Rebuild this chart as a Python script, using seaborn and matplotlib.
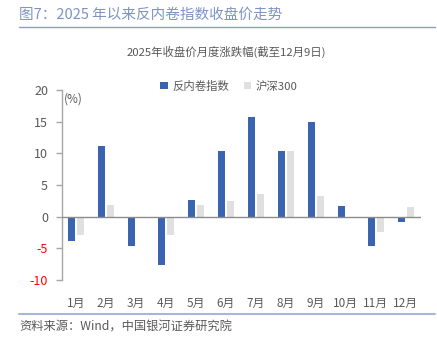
import pandas as pd
import seaborn as sns
import matplotlib.pyplot as plt
from matplotlib.patches import Patch
from matplotlib.lines import Line2D

# data
months = ['1月', '2月', '3月', '4月', '5月', '6月', '7月', '8月', '9月', '10月', '11月', '12月']
anti_involution = [-3.9, 11.1, -4.6, -7.7, 2.6, 10.3, 15.7, 10.3, 14.9, 1.7, -4.6, -0.9]
hs300 = [-2.9, 1.9, 0.0, -2.9, 1.8, 2.5, 3.5, 10.4, 3.2, 0.0, -2.5, 1.6]
series_names = ['反内卷指数', '沪深300']
yticks = [-10, -5, 0, 5, 10, 15, 20]

df = pd.DataFrame({
    'month': months * 2,
    'value': anti_involution + hs300,
    'series': [series_names[0]] * 12 + [series_names[1]] * 12,
})

sns.set_theme(style='white')
plt.rcParams['font.family'] = ['Noto Sans CJK SC', 'DejaVu Sans']
plt.rcParams['axes.unicode_minus'] = False

blue = '#3a63b0'
grey = '#e0e0e0'
txt = '#595959'

fig = plt.figure(figsize=(4.37, 3.5), dpi=100)
ax = fig.add_axes([0.1419, 0.2, 0.821, 0.5429])

sns.barplot(data=df, x='month', y='value', hue='series', palette=[blue, grey],
            width=0.57, gap=0.18, ax=ax, legend=False, saturation=1, linewidth=0)

ax.set_xlim(-0.47, 11.5)
ax.set_ylim(-10, 20)
ax.set_yticks(yticks)
ax.set_yticklabels([str(t) for t in yticks])
ax.axhline(0, color='#8c8c8c', lw=1.0, zorder=3)
ax.set_xlabel('')
ax.set_ylabel('')

for s in ['top', 'right', 'bottom']:
    ax.spines[s].set_visible(False)
ax.spines['left'].set_color('#a6a6a6')
ax.spines['left'].set_linewidth(1.0)
ax.tick_params(axis='y', length=4, width=1.0, color='#a6a6a6', labelsize=9,
               labelcolor=txt, pad=6, left=True, direction='out')
ax.tick_params(axis='x', length=0, labelsize=8.5, labelcolor=txt, pad=12)
for lab in ax.get_yticklabels():
    if lab.get_text().startswith('-'):
        lab.set_color('red')

ax.text(0.005, 0.985, '(%)', transform=ax.transAxes, fontsize=8.5, color=txt,
        ha='left', va='top')

# header / footer
fig.text(19 / 437, 1 - 15 / 350, '图7：2025 年以来反内卷指数收盘价走势', fontsize=10.5,
         color='#7f93c4', ha='left', va='center')
fig.add_artist(Line2D([19 / 437, 435 / 437], [1 - 27 / 350] * 2, color='#8a9cc8', lw=1.0))
fig.text(226 / 437, 1 - 52 / 350, '2025年收盘价月度涨跌幅(截至12月9日)', fontsize=8.2,
         color=txt, ha='center', va='center')
fig.add_artist(Line2D([19 / 437, 435 / 437], [1 - 314 / 350] * 2, color='#a9b6d6', lw=1.5))
fig.text(19 / 437, 1 - 327 / 350, '资料来源：Wind，中国银河证券研究院', fontsize=8.8,
         color=txt, ha='left', va='center', style='italic')

handles = [Patch(facecolor=blue, edgecolor='none'), Patch(facecolor=grey, edgecolor='none')]
fig.legend(handles, series_names, ncol=2, loc='center', bbox_to_anchor=(229 / 437, 1 - 86 / 350),
           frameon=False, fontsize=8.2, handlelength=0.65, handleheight=0.65, handletextpad=0.4,
           columnspacing=1.3, labelcolor=txt)

fig.savefig('out.png', dpi=100)
